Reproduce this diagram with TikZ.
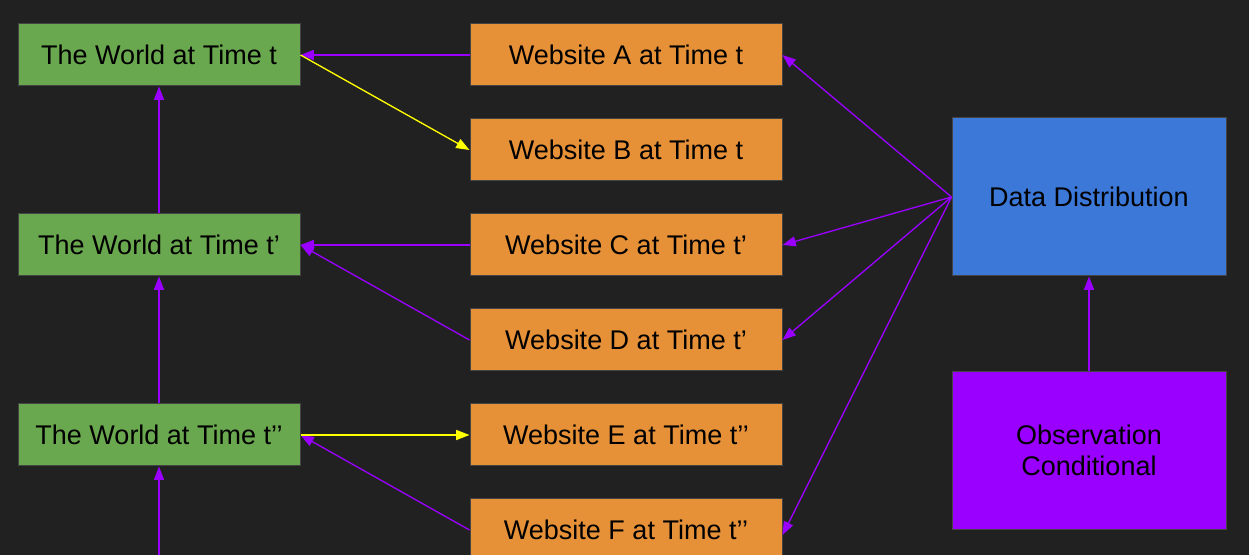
\documentclass[tikz,border=0pt]{standalone}
\usepackage{fontspec}
\setmainfont{Liberation Sans}
\usetikzlibrary{arrows.meta}
\definecolor{bgdark}{RGB}{33,33,33}
\definecolor{boxline}{RGB}{68,68,68}
\definecolor{worldgreen}{RGB}{106,168,79}
\definecolor{siteorange}{RGB}{230,145,56}
\definecolor{distblue}{RGB}{60,120,216}
\definecolor{obspurple}{RGB}{153,0,255}
\definecolor{arrowyellow}{RGB}{255,255,0}

\begin{document}
\begin{tikzpicture}[x=0.75pt,y=0.75pt,yscale=-1,xscale=1,
    box/.style={draw=boxline,line width=0.75pt,inner sep=0pt,text=black,font=\fontsize{20.25}{23.25}\selectfont},
    worldbox/.style={box,fill=worldgreen,minimum width=211.5pt,minimum height=46.5pt},
    sitebox/.style={box,fill=siteorange,minimum width=234pt,minimum height=46.5pt},
    bigbox/.style={box,align=center,minimum width=205.5pt},
    purplearrow/.style={draw=obspurple,line width=1pt,-{Triangle[length=10pt,width=7.5pt]}},
    yellowarrow/.style={draw=arrowyellow,line width=1pt,-{Triangle[length=10pt,width=7.5pt]}}]
    %set diagram size to 1249 x 555
    \fill[bgdark] (0,0) rectangle (1249,555);
    \useasboundingbox (0,0) rectangle (1249,555);
    \clip (0,0) rectangle (1249,555);
    %Shape: World boxes
    \node [worldbox] (world1) at (159,55) {The World at Time t};
    \node [worldbox] (world2) at (159,245) {The World at Time t’};
    \node [worldbox] (world3) at (159,435) {The World at Time t’’};
    %Shape: Website boxes
    \node [sitebox] (siteA) at (626,55) {Website A at Time t};
    \node [sitebox] (siteB) at (626,150) {Website B at Time t};
    \node [sitebox] (siteC) at (626,245) {Website C at Time t’};
    \node [sitebox] (siteD) at (626,340) {Website D at Time t’};
    \node [sitebox] (siteE) at (626,435) {Website E at Time t’’};
    \node [sitebox] (siteF) at (626,530) {Website F at Time t’’};
    %Shape: Distribution boxes
    \node [bigbox,fill=distblue,minimum height=118.5pt] (dist) at (1089,197) {Data Distribution};
    \node [bigbox,fill=obspurple,minimum height=117.75pt] (obs) at (1089,450.5) {Observation\\Conditional};
    \coordinate (below) at (159,570);
    %Straight Lines: time chain
    \draw [purplearrow] (world2) -- (world1);
    \draw [purplearrow] (world3) -- (world2);
    \draw [purplearrow] (below) -- (world3.south);
    %Straight Lines: websites to world
    \draw [purplearrow] (siteA.west) -- (world1.east);
    \draw [purplearrow] (siteC.west) -- (world2.east);
    \draw [purplearrow] (siteD.west) -- (world2.east);
    \draw [purplearrow] (siteF.west) -- (world3.east);
    %Straight Lines: world to websites
    \draw [yellowarrow] (world1.east) -- (siteB.west);
    \draw [yellowarrow] (world3.east) -- (siteE.west);
    %Straight Lines: distribution to websites
    \draw [purplearrow] (dist.west) -- (siteA.east);
    \draw [purplearrow] (dist.west) -- (siteC.east);
    \draw [purplearrow] (dist.west) -- (siteD.east);
    \draw [purplearrow] (dist.west) -- ([yshift=3.75pt]siteF.east);
    \draw [purplearrow] (obs) -- (dist);
\end{tikzpicture}
\end{document}
